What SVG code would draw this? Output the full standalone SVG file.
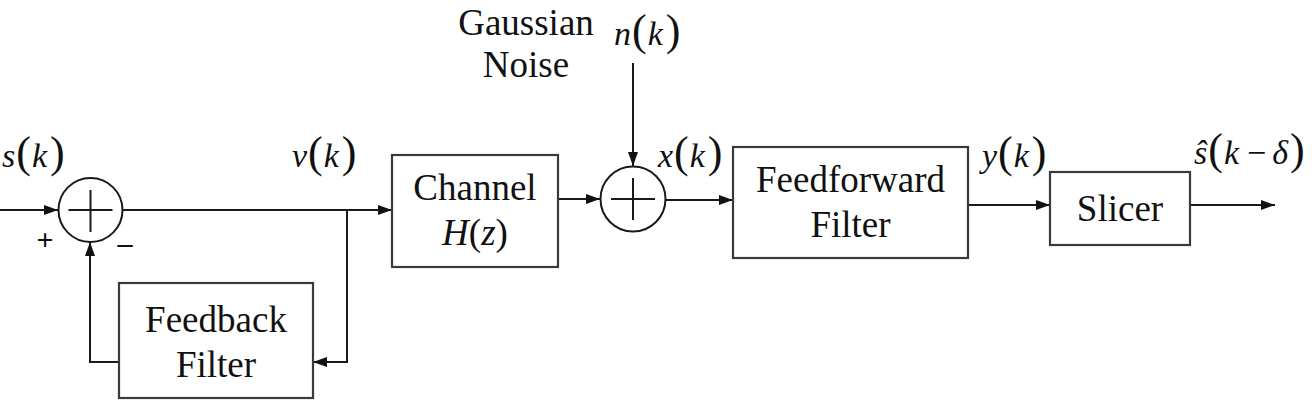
<svg xmlns="http://www.w3.org/2000/svg" width="1314" height="413" viewBox="0 0 1314 413">
  <style>
    .box { fill: #ffffff; stroke: #3a3a3a; stroke-width: 2.2; }
    .sum { fill: #ffffff; stroke: #1a1a1a; stroke-width: 2; }
    .cross { stroke: #1a1a1a; stroke-width: 2; fill: none; }
    .wire { stroke: #1a1a1a; stroke-width: 2; fill: none; }
    .lbl { font-family: "Liberation Serif", "Times New Roman", serif; font-size: 37px; fill: #111111; text-anchor: middle; }
    .math { font-family: "Liberation Serif", "Times New Roman", serif; font-size: 34px; fill: #111111; }
    .it { font-style: italic; }
    .par { font-size: 44px; }
    .sign { font-family: "Liberation Serif", "Times New Roman", serif; font-size: 30px; font-weight: bold; fill: #111111; text-anchor: middle; }
  </style>
  <defs>
    <marker id="arrow" markerWidth="14" markerHeight="10" refX="14" refY="5" orient="auto" markerUnits="userSpaceOnUse">
      <path d="M0,0 L14,5 L0,10 Z" fill="#111111"/>
    </marker>
  </defs>

  <rect width="1314" height="413" fill="#ffffff"/>

  <!-- signal paths -->
  <g id="connectors">
    <line class="wire" x1="0" y1="210" x2="58" y2="210" marker-end="url(#arrow)"/>
    <line class="wire" x1="122" y1="210" x2="392" y2="210" marker-end="url(#arrow)"/>
    <polyline class="wire" points="347,210 347,362 313,362" marker-end="url(#arrow)"/>
    <polyline class="wire" points="119,362 90,362 90,242" marker-end="url(#arrow)"/>
    <line class="wire" x1="558" y1="199" x2="600" y2="199" marker-end="url(#arrow)"/>
    <line class="wire" x1="633" y1="63" x2="633" y2="166" marker-end="url(#arrow)"/>
    <line class="wire" x1="666" y1="200" x2="733" y2="200" marker-end="url(#arrow)"/>
    <line class="wire" x1="968" y1="205" x2="1050" y2="205" marker-end="url(#arrow)"/>
    <line class="wire" x1="1190" y1="205" x2="1275" y2="205" marker-end="url(#arrow)"/>
  </g>

  <!-- input summing junction -->
  <g id="sum1">
    <circle class="sum" cx="90.5" cy="210" r="32"/>
    <path class="cross" d="M68.5,210 H112.5 M90.5,190 V232"/>
    <text class="sign" x="45" y="250">+</text>
    <text class="sign" x="125" y="253">–</text>
  </g>

  <!-- noise summing junction -->
  <g id="sum2">
    <circle class="sum" cx="633" cy="199" r="32.5"/>
    <path class="cross" d="M611,199 H655 M633,178 V220"/>
  </g>

  <g id="channel">
    <rect class="box" x="392" y="155" width="166" height="112"/>
    <text class="lbl" x="475" y="200">Channel</text>
    <text class="lbl" x="475" y="245"><tspan class="it">H</tspan>(<tspan class="it">z</tspan>)</text>
  </g>

  <g id="feedback">
    <rect class="box" x="119" y="283" width="194" height="115"/>
    <text class="lbl" x="216" y="332">Feedback</text>
    <text class="lbl" x="216" y="377">Filter</text>
  </g>

  <g id="feedforward">
    <rect class="box" x="733" y="147" width="235" height="111"/>
    <text class="lbl" x="850.5" y="192">Feedforward</text>
    <text class="lbl" x="850.5" y="237">Filter</text>
  </g>

  <g id="slicer">
    <rect class="box" x="1050" y="172" width="140" height="73"/>
    <text class="lbl" x="1120" y="221">Slicer</text>
  </g>

  <g id="noise-source">
    <text class="lbl" x="526" y="35">Gaussian</text>
    <text class="lbl" x="526" y="77">Noise</text>
  </g>

  <!-- signal names: italic symbols with tall upright brackets -->
  <g id="signal-labels">
    <text class="math" x="2" y="167"><tspan class="it">s</tspan><tspan class="par" dx="1">(</tspan><tspan class="it" dx="1">k</tspan><tspan class="par" dx="3">)</tspan></text>
    <text class="math" x="292" y="167"><tspan class="it">v</tspan><tspan class="par" dx="1">(</tspan><tspan class="it" dx="1">k</tspan><tspan class="par" dx="3">)</tspan></text>
    <text class="math" x="614" y="45"><tspan class="it">n</tspan><tspan class="par" dx="1">(</tspan><tspan class="it" dx="1">k</tspan><tspan class="par" dx="3">)</tspan></text>
    <text class="math" x="658" y="167"><tspan class="it">x</tspan><tspan class="par" dx="1">(</tspan><tspan class="it" dx="1">k</tspan><tspan class="par" dx="3">)</tspan></text>
    <text class="math" x="982" y="167"><tspan class="it">y</tspan><tspan class="par" dx="1">(</tspan><tspan class="it" dx="1">k</tspan><tspan class="par" dx="3">)</tspan></text>
    <text class="math" x="1194" y="164"><tspan class="it">ŝ</tspan><tspan class="par" dx="1">(</tspan><tspan class="it" dx="1">k</tspan><tspan dx="8">−</tspan><tspan class="it" dx="6">δ</tspan><tspan class="par" dx="2">)</tspan></text>
  </g>
</svg>
